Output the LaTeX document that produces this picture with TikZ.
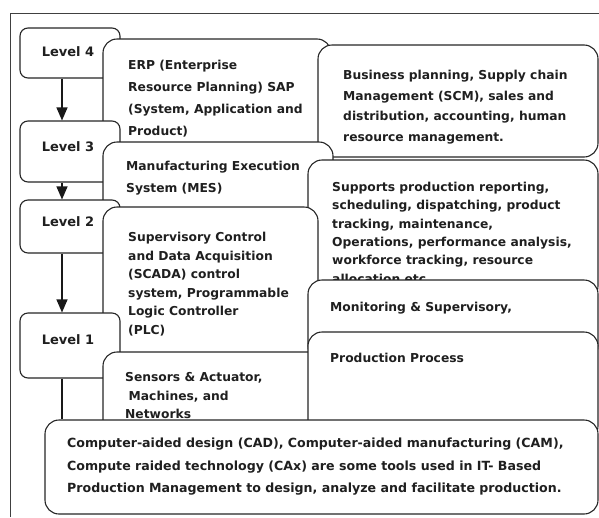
\documentclass[tikz,border=0pt]{standalone}
\usepackage{fontspec}
\setmainfont{DejaVu Sans}
\usetikzlibrary{arrows.meta}

\tikzset{
  outline/.style={draw=black!85, line width=1.1pt},
  framestroke/.style={draw=black!75, line width=0.9pt},
  lvlbox/.style={outline, fill=white, rounded corners=8pt, inner sep=0pt, shape=rectangle},
  card/.style={outline, fill=white, rounded corners=14pt, inner sep=0pt, shape=rectangle},
  % multi-line blocks: the base anchor sits on the baseline of the last line
  body/.style={anchor=base west, inner sep=0pt, align=left, text=black!88,
               font=\fontsize{12.3}{#1}\selectfont\bfseries},
  body/.default=21,
  wide/.style={font=\fontsize{12.6}{22.5}\selectfont\bfseries},
  lvltext/.style={text=black!88, inner sep=0pt, font=\fontsize{13}{15}\selectfont\bfseries},
  flow/.style={draw=black!90, line width=1.1pt},
  flowarrow/.style={flow, -{Triangle[width=11pt,length=13pt]}},
}

\begin{document}
\begin{tikzpicture}[x=1pt,y=-1pt]
\useasboundingbox (0,0) rectangle (599,517);

% outer frame (only its top and left sides fall inside the page)
\coordinate (fbl) at (10,517);
\coordinate (ftl) at (10,13);
\coordinate (ftr) at (599,13);
\draw[framestroke] (fbl) -- (ftl) -- (ftr);

% x position of the level-to-level connectors
\coordinate (ax) at (62,0);

% ---- Level 4 ----
\node[lvlbox, minimum width=100pt, minimum height=50pt] (L4) at (70,53) {};
\node[lvltext] (L4t) at (68,52) {Level 4};
\node[card, minimum width=228pt, minimum height=121pt] (ERP) at (217,99.5) {};
\node[body=22] (ERPt) at (128,135) {ERP (Enterprise\\Resource Planning) SAP\\(System, Application and\\Product)};
\node[card, minimum width=280pt, minimum height=112pt] (BUS) at (458,101) {};
\node[body=20.7] (BUSt) at (343,141.6) {Business planning, Supply chain\\Management (SCM), sales and\\distribution, accounting, human\\resource management.};

% ---- Level 3 ----
\node[lvlbox, minimum width=100pt, minimum height=61pt] (L3) at (70,151.5) {};
\node[lvltext] (L3t) at (68,147) {Level 3};
\node[card, minimum width=230pt, minimum height=88pt] (MES) at (218,186) {};
\node[body=22] (MESt) at (126,192.5) {Manufacturing Execution\\System (MES)};
\node[card, minimum width=290pt, minimum height=140pt] (SUP) at (453,230) {};
\node[body=18.3] (SUPt) at (332,283) {Supports production reporting,\\scheduling, dispatching, product\\tracking, maintenance,\\Operations, performance analysis,\\workforce tracking, resource\\allocation etc.};

% ---- Level 2 ----
\node[lvlbox, minimum width=100pt, minimum height=53pt] (L2) at (70,226.5) {};
\node[lvltext] (L2t) at (68,222) {Level 2};
\node[card, minimum width=215pt, minimum height=163pt] (SCA) at (210.5,288.5) {};
\node[body=18.6] (SCAt) at (128,334.5) {Supervisory Control\\and Data Acquisition\\(SCADA) control\\system, Programmable\\Logic Controller\\(PLC)};
\node[card, minimum width=290pt, minimum height=80pt] (MON) at (453,320) {};
\node[body] (MONt) at (330,311.5) {Monitoring \& Supervisory,};

% ---- Level 1 ----
\node[lvlbox, minimum width=100pt, minimum height=65pt] (L1) at (70,345.5) {};
\node[lvltext] (L1t) at (68,340) {Level 1};
\node[card, minimum width=227pt, minimum height=88pt] (SEN) at (216.5,396) {};
\node[body=18.5] (SENt) at (125,418.5) {Sensors \& Actuator,\\\hspace{3.5pt}Machines, and\\Networks};
\node[card, minimum width=290pt, minimum height=108pt] (PRO) at (453,386) {};
\node[body] (PROt) at (330,362.5) {Production Process};

% ---- connectors between the levels ----
\draw[flowarrow] (ax |- L4.south) -- (ax |- L3.north);
\draw[flowarrow] (ax |- L3.south) -- (ax |- L2.north);
\draw[flowarrow] (ax |- L2.south) -- (ax |- L1.north);

% ---- tools box at the foot ----
\node[card, minimum width=553pt, minimum height=94pt] (BOT) at (321.5,467) {};
\draw[flow] (ax |- L1.south) -- (ax |- BOT.north);
\node[body, wide] (BOTt) at (67,492.5) {Computer-aided design (CAD), Computer-aided manufacturing (CAM),\\Compute raided technology (CAx) are some tools used in IT- Based\\Production Management to design, analyze and facilitate production.};

\end{tikzpicture}
\end{document}
